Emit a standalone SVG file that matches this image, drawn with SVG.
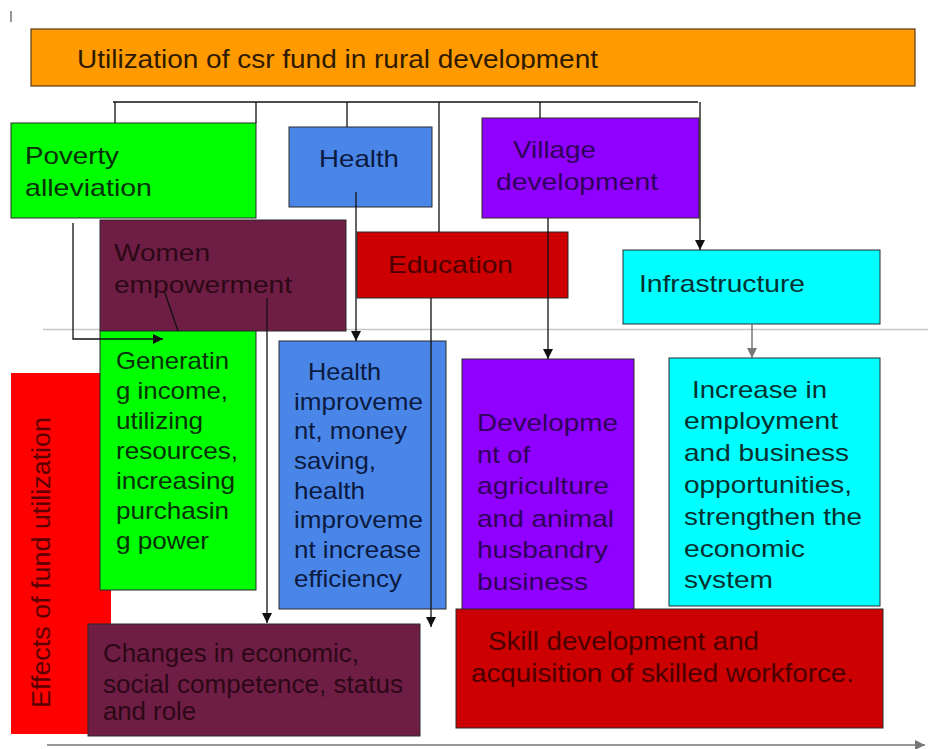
<svg xmlns="http://www.w3.org/2000/svg" width="928" height="749" viewBox="0 0 928 749">
<style>
text{font-family:"Liberation Sans",Arial,sans-serif;font-size:24px}
.box{stroke:#2a2a2a;stroke-width:1}
.ln{fill:none;stroke:#111;stroke-width:1.3}
.gl{fill:none;stroke:#777;stroke-width:1.5}
.tg{fill:#083008}.tb{fill:#0a1a40}.tm{fill:#2c0816}.tr{fill:#4a0000}.tp{fill:#30005a}.tc{fill:#043030}
</style>
<defs>
<marker id="ah" viewBox="0 0 10 10" markerWidth="11" markerHeight="10" refX="10" refY="5" orient="auto" markerUnits="userSpaceOnUse"><path d="M0,0L10,5L0,10z" fill="#111"/></marker>
<marker id="ahg" viewBox="0 0 10 10" markerWidth="11" markerHeight="10" refX="10" refY="5" orient="auto" markerUnits="userSpaceOnUse"><path d="M0,0L10,5L0,10z" fill="#777"/></marker>
<clipPath id="cTitle"><rect x="31" y="29" width="884" height="40.5"/></clipPath>
<clipPath id="cInc"><rect x="669" y="357" width="212" height="232.5"/></clipPath>
</defs>
<rect width="928" height="749" fill="#fff"/>
<line x1="11" y1="11" x2="11" y2="22" stroke="#555" stroke-width="1.2"/>
<line x1="43" y1="329.5" x2="928" y2="329.5" stroke="#c8c8c8" stroke-width="1.5"/>

<g id="title">
<rect x="31" y="29" width="884" height="57" fill="#ff9a00" stroke="#5a3a1a" stroke-width="1.2"/>
<text x="77" y="68" clip-path="url(#cTitle)" style="font-size:25.5px;fill:#2e1a00" textLength="521" lengthAdjust="spacingAndGlyphs">Utilization of csr fund in rural development</text>
</g>

<g id="poverty">
<rect class="box" x="11" y="123" width="245" height="95" fill="#00ff00"/>
<text class="tg" x="25" y="164" textLength="94" lengthAdjust="spacingAndGlyphs">Poverty</text>
<text class="tg" x="25" y="196" textLength="127" lengthAdjust="spacingAndGlyphs">alleviation</text>
</g>

<g id="health">
<rect class="box" x="289" y="127" width="143" height="80" fill="#4a86e8"/>
<text class="tb" x="319" y="167" textLength="80" lengthAdjust="spacingAndGlyphs">Health</text>
</g>

<g id="village">
<rect class="box" x="482" y="118" width="217" height="100" fill="#8f00ff"/>
<text class="tp" x="513" y="158" textLength="83" lengthAdjust="spacingAndGlyphs">Village</text>
<text class="tp" x="496" y="190" textLength="162" lengthAdjust="spacingAndGlyphs">development</text>
</g>

<g id="women">
<rect class="box" x="100" y="220" width="246" height="111" fill="#6e1e44"/>
<text class="tm" x="114" y="261" textLength="96" lengthAdjust="spacingAndGlyphs">Women</text>
<text class="tm" x="114" y="293" textLength="178" lengthAdjust="spacingAndGlyphs">empowerment</text>
</g>

<g id="education">
<rect class="box" x="357" y="232" width="211" height="66" fill="#cc0000"/>
<text class="tr" x="388" y="273" textLength="125" lengthAdjust="spacingAndGlyphs">Education</text>
</g>

<g id="infrastructure">
<rect class="box" x="623" y="250" width="257" height="74" fill="#00ffff"/>
<text class="tc" x="639" y="292" textLength="166" lengthAdjust="spacingAndGlyphs">Infrastructure</text>
</g>

<g id="effects">
<rect x="11" y="373" width="100" height="361" fill="#ff0000"/>
<text transform="translate(49.5,708) rotate(-90)" x="0" y="0" style="font-size:25px;fill:#5a0000" textLength="291" lengthAdjust="spacingAndGlyphs">Effects of fund utilization</text>
</g>

<g id="generating">
<rect class="box" x="100" y="331" width="156" height="259" fill="#00ff00"/>
<text class="tg" x="116" y="369" textLength="113" lengthAdjust="spacingAndGlyphs">Generatin</text>
<text class="tg" x="116" y="399" textLength="112" lengthAdjust="spacingAndGlyphs">g income,</text>
<text class="tg" x="116" y="429" textLength="87" lengthAdjust="spacingAndGlyphs">utilizing</text>
<text class="tg" x="116" y="459" textLength="122" lengthAdjust="spacingAndGlyphs">resources,</text>
<text class="tg" x="116" y="489" textLength="119" lengthAdjust="spacingAndGlyphs">increasing</text>
<text class="tg" x="116" y="519" textLength="113" lengthAdjust="spacingAndGlyphs">purchasin</text>
<text class="tg" x="116" y="549" textLength="93" lengthAdjust="spacingAndGlyphs">g power</text>
</g>

<g id="healthImprovement">
<rect class="box" x="279" y="341" width="167" height="268" fill="#4a86e8"/>
<text class="tb" x="308" y="380" textLength="73" lengthAdjust="spacingAndGlyphs">Health</text>
<text class="tb" x="294" y="410" textLength="129" lengthAdjust="spacingAndGlyphs">improveme</text>
<text class="tb" x="294" y="439" textLength="113" lengthAdjust="spacingAndGlyphs">nt, money</text>
<text class="tb" x="294" y="469" textLength="82" lengthAdjust="spacingAndGlyphs">saving,</text>
<text class="tb" x="294" y="499" textLength="71" lengthAdjust="spacingAndGlyphs">health</text>
<text class="tb" x="294" y="528" textLength="129" lengthAdjust="spacingAndGlyphs">improveme</text>
<text class="tb" x="294" y="558" textLength="127" lengthAdjust="spacingAndGlyphs">nt increase</text>
<text class="tb" x="294" y="587" textLength="108" lengthAdjust="spacingAndGlyphs">efficiency</text>
</g>

<g id="agriculture">
<rect class="box" x="462" y="359" width="172" height="255" fill="#8f00ff"/>
<text class="tp" x="477" y="431" textLength="141" lengthAdjust="spacingAndGlyphs">Developme</text>
<text class="tp" x="477" y="463" textLength="53" lengthAdjust="spacingAndGlyphs">nt of</text>
<text class="tp" x="477" y="494" textLength="132" lengthAdjust="spacingAndGlyphs">agriculture</text>
<text class="tp" x="477" y="527" textLength="137" lengthAdjust="spacingAndGlyphs">and animal</text>
<text class="tp" x="477" y="558" textLength="131" lengthAdjust="spacingAndGlyphs">husbandry</text>
<text class="tp" x="477" y="590" textLength="111" lengthAdjust="spacingAndGlyphs">business</text>
</g>

<g id="employment">
<rect class="box" x="669" y="358" width="211" height="248" fill="#00ffff"/>
<g clip-path="url(#cInc)">
<text class="tc" x="692" y="398" textLength="135" lengthAdjust="spacingAndGlyphs">Increase in</text>
<text class="tc" x="684" y="429" textLength="154" lengthAdjust="spacingAndGlyphs">employment</text>
<text class="tc" x="684" y="461" textLength="165" lengthAdjust="spacingAndGlyphs">and business</text>
<text class="tc" x="684" y="493" textLength="168" lengthAdjust="spacingAndGlyphs">opportunities,</text>
<text class="tc" x="684" y="525" textLength="178" lengthAdjust="spacingAndGlyphs">strengthen the</text>
<text class="tc" x="684" y="557" textLength="121" lengthAdjust="spacingAndGlyphs">economic</text>
<text class="tc" x="684" y="588" textLength="89" lengthAdjust="spacingAndGlyphs">system</text>
</g>
</g>

<g id="changes">
<rect class="box" x="88" y="624" width="332" height="112" fill="#6e1e44"/>
<text x="103" y="662" style="font-size:25px;fill:#2c0816" textLength="256" lengthAdjust="spacingAndGlyphs">Changes in economic,</text>
<text x="103" y="693" style="font-size:25px;fill:#2c0816" textLength="300" lengthAdjust="spacingAndGlyphs">social competence, status</text>
<text x="103" y="720" style="font-size:25px;fill:#2c0816" textLength="93" lengthAdjust="spacingAndGlyphs">and role</text>
</g>

<g id="skill">
<rect class="box" x="456" y="609" width="427" height="119" fill="#cc0000"/>
<text x="488" y="650" style="font-size:25px;fill:#4a0000" textLength="271" lengthAdjust="spacingAndGlyphs">Skill development and</text>
<text x="471" y="682" style="font-size:25px;fill:#4a0000" textLength="383" lengthAdjust="spacingAndGlyphs">acquisition of skilled workforce.</text>
</g>

<g id="connectors">
<path class="ln" d="M113,102H698"/>
<path class="ln" d="M115,102V123"/>
<path class="ln" d="M256,102V123"/>
<path class="ln" d="M347,102V127"/>
<path class="ln" d="M439,102V232"/>
<path class="ln" d="M540,102V118"/>
<path class="ln" d="M700,102V250" marker-end="url(#ah)"/>
<path class="ln" d="M73,223V339H163" marker-end="url(#ah)"/>
<path class="ln" d="M356,192V341" marker-end="url(#ah)"/>
<path class="ln" d="M165,293L178,331"/>
<path class="ln" d="M267,298V623" marker-end="url(#ah)"/>
<path class="ln" d="M431,298V627" marker-end="url(#ah)"/>
<path class="ln" d="M548,218V359" marker-end="url(#ah)"/>
<path class="gl" d="M752,324V358" marker-end="url(#ahg)"/>
<path class="gl" d="M47,745H925" marker-end="url(#ahg)"/>
</g>
</svg>
